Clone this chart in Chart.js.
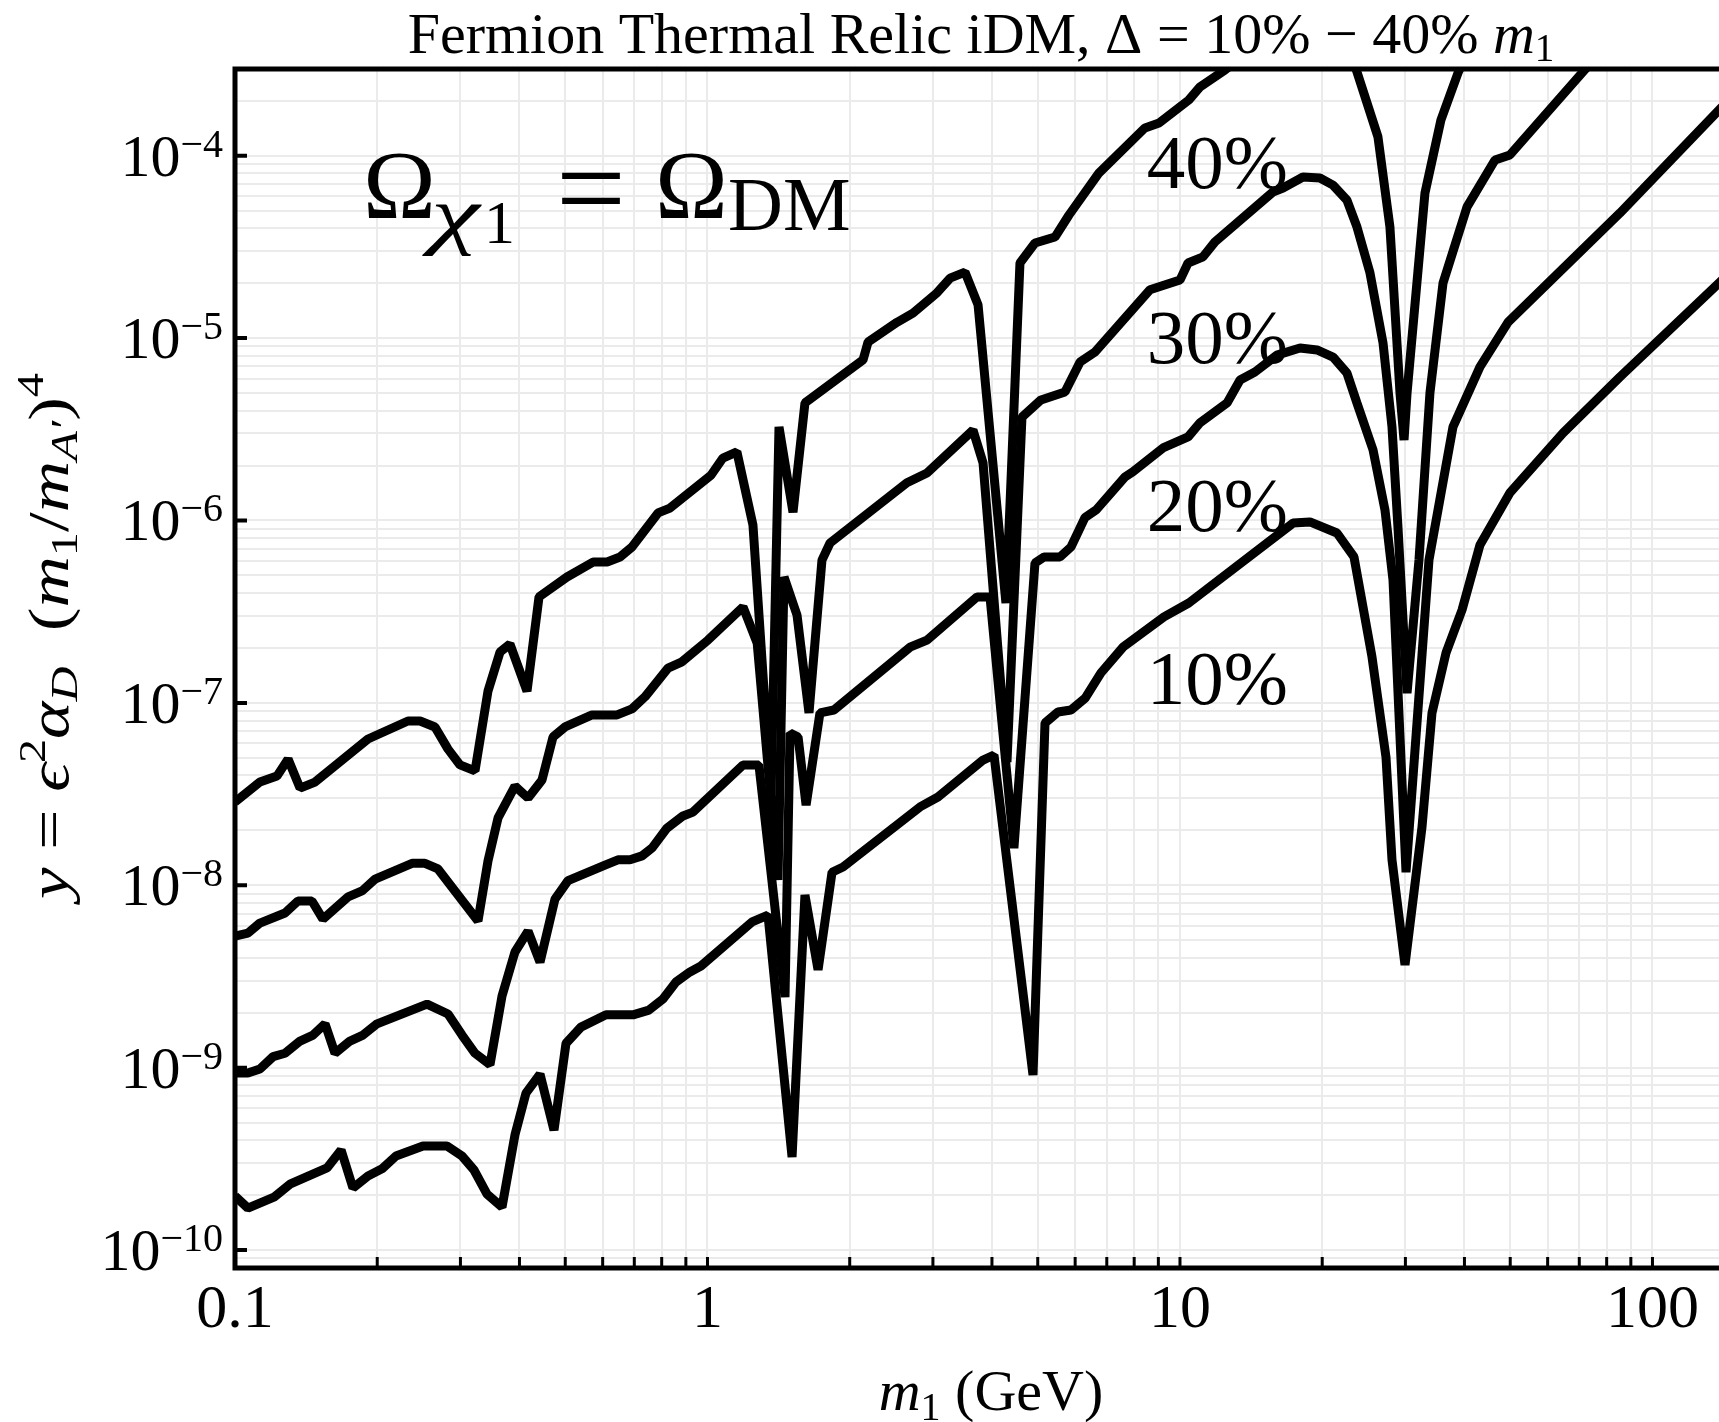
<!DOCTYPE html>
<html><head><meta charset="utf-8">
<script src="https://cdn.jsdelivr.net/npm/chart.js@4.4.1/dist/chart.umd.min.js"></script>
<style>html,body{margin:0;padding:0;background:#fff;overflow:hidden}canvas{display:block}</style>
</head><body>
<canvas id="c" width="1719" height="1422"></canvas>
<script>
// ---------------- data (m1 in GeV, y dimensionless) ----------------
const m40 = [0.1,0.1129,0.1227,0.1295,0.1373,0.1477,0.1912,0.2323,0.2464,0.2650,0.2824,0.2994,0.3221,0.3431,0.3638,0.3819,0.4150,0.4400,0.5043,0.5724,0.6131,0.6529,0.6922,0.7859,0.8330,1.017,1.078,1.154,1.248,1.363,1.417,1.517,1.608,2.134,2.187,2.518,2.722,3.060,3.261,3.508,3.738,4.282,4.585,4.933,5.438,5.823,6.739,8.43,9.03,10.44,11.02,12.45,15.73,16.52,18.21,19.78,21.08,22.56,23.69,26.24,27.82,29.22,29.80,30.24,33.0,35.67,38.76,42.1];
const y40 = [2.86e-8,3.68e-8,3.97e-8,4.92e-8,3.41e-8,3.68e-8,6.34e-8,7.96e-8,7.96e-8,7.38e-8,5.58e-8,4.57e-8,4.24e-8,1.16e-7,1.90e-7,2.10e-7,1.16e-7,3.81e-7,4.90e-7,5.92e-7,5.92e-7,6.31e-7,7.16e-7,1.10e-6,1.17e-6,1.77e-6,2.20e-6,2.38e-6,9.44e-7,3.13e-8,3.26e-6,1.11e-6,4.41e-6,7.59e-6,9.52e-6,1.22e-5,1.37e-5,1.77e-5,2.13e-5,2.30e-5,1.52e-5,3.53e-7,2.58e-5,3.32e-5,3.58e-5,4.73e-5,8.04e-5,1.42e-4,1.51e-4,2.02e-4,2.38e-4,2.95e-4,4.77e-4,5.01e-4,5.75e-4,5.68e-4,5.21e-4,4.30e-4,2.88e-4,1.27e-4,4.07e-5,5.0e-6,2.76e-6,5.0e-6,6.25e-5,1.57e-4,2.84e-4,4.59e-4];

const m30 = [0.1,0.1065,0.1129,0.1276,0.1359,0.1455,0.1535,0.1735,0.1857,0.1979,0.2370,0.2524,0.2689,0.3268,0.3431,0.3603,0.3913,0.4171,0.4465,0.4710,0.4993,0.5697,0.6435,0.6922,0.7374,0.8250,0.8831,1.0025,1.189,1.274,1.410,1.452,1.547,1.640,1.747,1.817,2.643,2.915,3.647,3.830,4.304,4.630,5.078,5.710,6.145,6.609,8.639,10.0,10.40,11.19,11.86,15.73,16.52,18.21,19.78,21.08,22.56,23.69,25.24,26.90,28.10,28.93,30.24,32.05,33.81,36.03,40.51,46.42,49.93,71.27,85.3];
const y30 = [5.27e-9,5.47e-9,6.21e-9,7.05e-9,8.20e-9,8.20e-9,6.53e-9,8.63e-9,9.31e-9,1.08e-8,1.32e-8,1.32e-8,1.23e-8,6.37e-9,1.36e-8,2.34e-8,3.50e-8,3.01e-8,3.78e-8,6.50e-8,7.38e-8,8.59e-8,8.59e-8,9.27e-8,1.08e-7,1.55e-7,1.68e-7,2.21e-7,3.36e-7,2.13e-7,1.07e-8,4.90e-7,3.03e-7,8.81e-8,6.07e-7,7.53e-7,1.61e-6,1.82e-6,3.13e-6,2.07e-6,4.74e-8,3.69e-6,4.58e-6,5.06e-6,7.40e-6,8.39e-6,1.84e-5,2.08e-5,2.58e-5,2.79e-5,3.37e-5,6.32e-5,6.65e-5,7.64e-5,7.55e-5,6.90e-5,5.71e-5,4.07e-5,2.28e-5,9.40e-6,3.26e-6,9.21e-7,1.13e-7,6.07e-7,5.00e-6,2.00e-5,5.24e-5,9.47e-5,1.01e-4,2.88e-4,4.89e-4];

const m20 = [0.1,0.1065,0.1129,0.1204,0.1276,0.1373,0.1463,0.1551,0.1628,0.1751,0.1866,0.1998,0.2549,0.2824,0.3023,0.3221,0.3465,0.3674,0.3913,0.4171,0.4421,0.4756,0.5068,0.6068,0.6463,0.6855,0.7269,0.7630,0.8210,0.8874,0.9318,1.189,1.285,1.459,1.495,1.555,1.617,1.730,1.852,2.683,2.915,3.720,3.962,4.452,4.933,5.155,5.572,5.879,6.296,6.642,7.647,7.951,9.205,10.40,11.02,12.58,13.40,14.41,16.04,17.95,19.50,21.08,22.56,23.69,25.62,27.16,28.24,30.09,33.65,37.83,43.14,49.45,85.33,145];
const y20 = [9.35e-10,9.35e-10,9.84e-10,1.15e-9,1.20e-9,1.40e-9,1.51e-9,1.74e-9,1.20e-9,1.40e-9,1.51e-9,1.74e-9,2.23e-9,1.97e-9,1.51e-9,1.20e-9,1.04e-9,2.47e-9,4.31e-9,5.61e-9,3.79e-9,8.41e-9,1.06e-8,1.29e-8,1.38e-8,1.38e-8,1.45e-8,1.60e-8,2.06e-8,2.40e-8,2.52e-8,4.57e-8,4.57e-8,2.44e-9,6.84e-8,6.50e-8,2.75e-8,8.81e-8,9.14e-8,2.02e-7,2.21e-7,3.81e-7,3.81e-7,1.60e-8,5.85e-7,6.31e-7,6.31e-7,7.16e-7,1.04e-6,1.14e-6,1.73e-6,1.85e-6,2.50e-6,2.87e-6,3.43e-6,4.41e-6,5.89e-6,6.52e-6,8.07e-6,8.83e-6,8.61e-6,7.87e-6,6.44e-6,4.41e-6,2.44e-6,1.14e-6,4.72e-7,1.18e-8,6.07e-7,3.26e-6,6.95e-6,1.22e-5,4.85e-5,2.02e-4];

const m10 = [0.1,0.1065,0.1209,0.1307,0.1566,0.1677,0.1777,0.1912,0.2047,0.2191,0.2500,0.2810,0.3023,0.3205,0.3415,0.3674,0.3913,0.4129,0.4421,0.4733,0.5018,0.5397,0.6099,0.6956,0.7518,0.8050,0.8577,0.9183,0.9688,1.243,1.343,1.510,1.608,1.714,1.835,1.936,2.817,3.075,3.830,4.040,4.886,5.180,5.518,5.879,6.296,6.804,7.573,9.250,10.44,17.35,18.84,21.49,23.35,25.49,27.29,28.10,29.94,32.53,34.15,36.56,39.53,43.14,49.93,64.67,85.33,145];
const y10 = [1.98e-10,1.70e-10,1.95e-10,2.30e-10,2.82e-10,3.54e-10,2.19e-10,2.55e-10,2.79e-10,3.28e-10,3.72e-10,3.72e-10,3.28e-10,2.75e-10,2.03e-10,1.72e-10,4.28e-10,7.26e-10,9.23e-10,4.55e-10,1.36e-9,1.67e-9,1.95e-9,1.95e-9,2.07e-9,2.38e-9,2.95e-9,3.35e-9,3.61e-9,6.30e-9,6.87e-9,3.24e-10,8.85e-9,3.44e-9,1.18e-8,1.26e-8,2.69e-8,3.05e-8,4.86e-8,5.18e-8,9.12e-10,7.76e-8,8.91e-8,9.14e-8,1.06e-7,1.46e-7,2.02e-7,2.96e-7,3.53e-7,9.68e-7,9.82e-7,8.54e-7,6.31e-7,1.79e-7,5.05e-8,1.38e-8,3.66e-9,2.09e-8,8.81e-8,1.88e-7,3.23e-7,7.34e-7,1.42e-6,3.02e-6,6.12e-6,2.25e-5];

const curveLabels = ['40%','30%','20%','10%'];
const labelMass = 8.51;                              // GeV, left edge of the curve labels
const labelY = [6.65e-5, 7.31e-6, 8.75e-7, 9.86e-8]; // baselines of the curve labels

// axis ranges and ticks
const xMin = 0.1, xMax = 138.3;
const yMin = 7.98e-11, yMax = 2.987e-4;
const xTickValues = [0.1, 1, 10, 100];
const xTickLabels = ['0.1', '1', '10', '100'];
const xGridValues = [0.1,0.2,0.3,0.4,0.5,0.6,0.7,0.8,0.9,1,2,3,4,5,6,7,8,9,10,20,30,40,50,60,70,80,90,100];
const yTickValues = [1e-4,1e-5,1e-6,1e-7,1e-8,1e-9,1e-10];
const yTickPowers = ['\u22124','\u22125','\u22126','\u22127','\u22128','\u22129','\u221210'];
const yGridValues = [8e-11,9e-11,1e-10,2e-10,3e-10,4e-10,5e-10,6e-10,7e-10,8e-10,9e-10,1e-9,2e-9,3e-9,4e-9,5e-9,6e-9,7e-9,8e-9,9e-9,1e-8,2e-8,3e-8,4e-8,5e-8,6e-8,7e-8,8e-8,9e-8,1e-7,2e-7,3e-7,4e-7,5e-7,6e-7,7e-7,8e-7,9e-7,1e-6,2e-6,3e-6,4e-6,5e-6,6e-6,7e-6,8e-6,9e-6,1e-5,2e-5,3e-5,4e-5,5e-5,6e-5,7e-5,8e-5,9e-5,1e-4,2e-4];

// ---------------- drawing ----------------
const SERIF = '"Liberation Serif", "Times New Roman", serif';
const F = (px, it) => (it ? 'italic ' : '') + px + 'px ' + SERIF;

function richWidth(ctx, segs) {
  let w = 0;
  for (const s of segs) { ctx.font = s.font; w += ctx.measureText(s.t).width + (s.dx || 0); }
  return w;
}
function drawRich(ctx, x, y, segs) {
  let cx = x;
  for (const s of segs) {
    ctx.font = s.font; cx += (s.dx || 0);
    ctx.fillText(s.t, cx, y + (s.dy || 0));
    cx += ctx.measureText(s.t).width;
  }
  return cx;
}

const overlay = {
  id: 'overlay',
  afterDraw(chart) {
    const ctx = chart.ctx, a = chart.chartArea, xs = chart.scales.x, ys = chart.scales.y;
    ctx.save();
    ctx.fillStyle = '#000'; ctx.strokeStyle = '#000';
    ctx.textAlign = 'left'; ctx.textBaseline = 'alphabetic';

    // inward ticks on x axis (all decades and sub-decades)
    ctx.lineWidth = 3;
    ctx.beginPath();
    for (const v of xGridValues) {
      const px = xs.getPixelForValue(v);
      ctx.moveTo(px, a.bottom); ctx.lineTo(px, a.bottom - 11);
    }
    ctx.stroke();
    // inward major ticks on y axis
    ctx.lineWidth = 4;
    ctx.beginPath();
    for (const v of yTickValues) {
      const py = ys.getPixelForValue(v);
      ctx.moveTo(a.left, py); ctx.lineTo(a.left + 12, py);
    }
    ctx.stroke();

    // frame (right side lies beyond the picture)
    ctx.lineWidth = 5;
    ctx.beginPath();
    ctx.moveTo(a.right + 10, a.top); ctx.lineTo(a.left, a.top);
    ctx.lineTo(a.left, a.bottom); ctx.lineTo(a.right + 10, a.bottom);
    ctx.stroke();

    // x tick labels
    ctx.font = F(62);
    ctx.textAlign = 'center';
    xTickValues.forEach((v, i) => ctx.fillText(xTickLabels[i], xs.getPixelForValue(v), a.bottom + 59));
    ctx.textAlign = 'left';

    // y tick labels 10^n
    yTickValues.forEach((v, i) => {
      const py = ys.getPixelForValue(v);
      ctx.font = F(40); const sw = ctx.measureText(yTickPowers[i]).width;
      ctx.font = F(60); const mw = ctx.measureText('10').width;
      const right = a.left - 12;
      ctx.font = F(60); ctx.fillText('10', right - sw - mw, py + 20);
      ctx.font = F(40); ctx.fillText(yTickPowers[i], right - sw, py + 1);
    });

    // title
    const tSegs = [
      { t: 'Fermion Thermal Relic iDM, \u0394 = 10% \u2212 40% ', font: F(58) },
      { t: 'm', font: F(58, true) },
      { t: '1', font: F(39), dy: 8 }
    ];
    const tw = richWidth(ctx, tSegs);
    drawRich(ctx, 981 - tw / 2, 53, tSegs);

    // x axis title
    const xSegs = [
      { t: 'm', font: F(58, true) },
      { t: '1', font: F(40), dy: 10 },
      { t: ' (GeV)', font: F(58) }
    ];
    const xw = richWidth(ctx, xSegs);
    drawRich(ctx, 991 - xw / 2, 1410, xSegs);

    // y axis title (rotated)
    const ySegs = [
      { t: 'y', font: F(56, true) },
      { t: ' = ', font: F(56) },
      { t: '\u03F5', font: F(56, true) },
      { t: '2', font: F(38), dy: -23 },
      { t: '\u03B1', font: F(56, true) },
      { t: 'D', font: F(38, true), dy: 9 },
      { t: '  (', font: F(56) },
      { t: 'm', font: F(56, true) },
      { t: '1', font: F(38), dy: 9 },
      { t: '/', font: F(56) },
      { t: 'm', font: F(56, true) },
      { t: 'A\u2032', font: F(38, true), dy: 9 },
      { t: ')', font: F(56) },
      { t: '4', font: F(38), dy: -25 }
    ];
    const yw = richWidth(ctx, ySegs);
    const stretch = 526 / yw;
    ctx.save();
    ctx.translate(68, 636);
    ctx.rotate(-Math.PI / 2);
    ctx.scale(stretch, 1);
    drawRich(ctx, -yw / 2, 0, ySegs);
    ctx.restore();

    // Omega annotation
    ctx.font = F(98); ctx.fillText('\u03A9', 363, 218);
    ctx.save();
    ctx.translate(431, 240); ctx.scale(1.45, 1);
    ctx.font = F(76, true); ctx.fillText('\u03C7', 0, 0);
    ctx.restore();
    ctx.font = F(62); ctx.fillText('1', 484, 243);
    ctx.font = F(124); ctx.fillText('=', 556, 230);
    ctx.font = F(98); ctx.fillText('\u03A9', 655, 218);
    ctx.font = F(76); ctx.fillText('DM', 728, 230);

    // curve labels
    ctx.font = F(77);
    const lx = xs.getPixelForValue(labelMass);
    curveLabels.forEach((s, i) => ctx.fillText(s, lx, ys.getPixelForValue(labelY[i])));

    ctx.restore();
  }
};

const series = [
  { label: curveLabels[0], m: m40, y: y40 },
  { label: curveLabels[1], m: m30, y: y30 },
  { label: curveLabels[2], m: m20, y: y20 },
  { label: curveLabels[3], m: m10, y: y10 }
];

function build() {
  new Chart(document.getElementById('c'), {
    type: 'line',
    data: {
      datasets: series.map(s => ({
        label: s.label,
        data: s.m.map((m, i) => ({ x: m, y: s.y[i] })),
        borderColor: '#000',
        borderWidth: 9,
        pointRadius: 0,
        pointHoverRadius: 0,
        fill: false,
        tension: 0,
        borderJoinStyle: 'bevel',
        clip: 0
      }))
    },
    options: {
      responsive: false,
      animation: false,
      events: [],
      layout: { padding: { top: 69, left: 0, right: 0, bottom: 0 } },
      plugins: { legend: { display: false }, tooltip: { enabled: false }, title: { display: false } },
      scales: {
        x: {
          type: 'logarithmic', min: xMin, max: xMax,
          ticks: { display: false },
          grid: { color: '#ebebeb', lineWidth: 2, drawTicks: false },
          border: { display: false },
          afterBuildTicks: s => { s.ticks = xGridValues.map(v => ({ value: v })); },
          afterFit: s => { s.height = 154; }
        },
        y: {
          type: 'logarithmic', min: yMin, max: yMax,
          ticks: { display: false },
          grid: { color: '#ebebeb', lineWidth: 2, drawTicks: false },
          border: { display: false },
          afterBuildTicks: s => { s.ticks = yGridValues.map(v => ({ value: v })); },
          afterFit: s => { s.width = 235; }
        }
      }
    },
    plugins: [overlay]
  });
}
if (document.fonts && document.fonts.load) {
  Promise.all([document.fonts.load(F(58)), document.fonts.load(F(58, true))]).then(build, build);
} else { build(); }
</script>
</body></html>
